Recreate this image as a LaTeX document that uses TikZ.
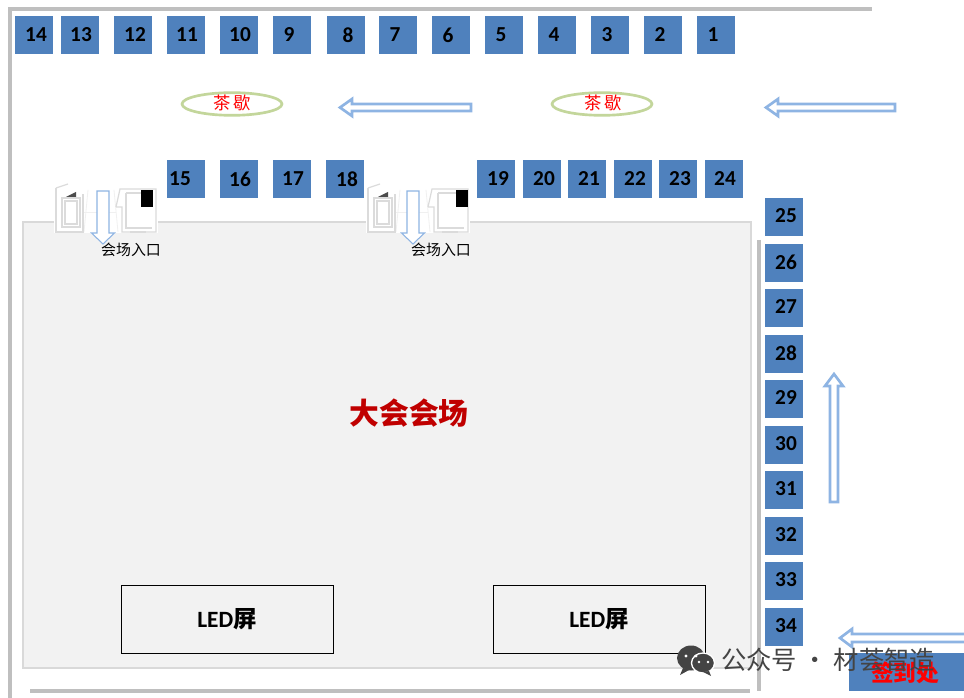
\documentclass[tikz,border=0pt]{standalone}
\usepackage{fontspec}
\usetikzlibrary{shapes.geometric}
\setmainfont{Carlito}
\newfontfamily\cjk{Noto Sans CJK SC}
\definecolor{boothblue}{HTML}{4F81BD}
\definecolor{wallgray}{HTML}{BFBFBF}
\definecolor{hallgray}{HTML}{F2F2F2}
\definecolor{halledge}{HTML}{D9D9D9}
\definecolor{arrowblue}{HTML}{8EB4E3}
\definecolor{ovalgreen}{HTML}{C3D69B}
\definecolor{titlered}{HTML}{C00000}
\definecolor{markgray}{HTML}{444444}
\tikzset{
 x=0.75pt,y=-0.75pt,
 booth/.style={fill=boothblue,draw=none,minimum width=28.5pt,minimum height=28.5pt,inner sep=0pt},
 boothnum/.style={font=\bfseries\fontsize{16}{18}\selectfont,text=black,inner sep=0pt},
 wall/.style={draw=wallgray,line width=3.4pt},
 oval/.style={ellipse,draw=ovalgreen,line width=2pt,fill=white,minimum width=75pt,minimum height=17pt,inner sep=0pt},
 ovaltext/.style={font=\cjk\fontsize{13}{14}\selectfont,text=red,inner sep=0pt},
 flow/.style={draw=arrowblue,line width=2pt,fill=white},
 thinflow/.style={draw=arrowblue,line width=0.8pt,fill=white},
 ledbox/.style={draw=black,line width=0.7pt,fill=hallgray,minimum width=159pt,minimum height=50.5pt,inner sep=0pt,font=\bfseries\fontsize{17.5}{20}\selectfont},
 doorline/.style={draw=black!14,line width=0.9pt},
 doorfaint/.style={draw=black!6,line width=0.6pt},
 gatetext/.style={font=\cjk\fontsize{11.2}{13}\selectfont,inner sep=0pt},
 marktext/.style={font=\cjk\fontsize{19}{21}\selectfont,text=markgray,inner sep=0pt},
}
% #1 left edge, #2 left edge of the black block, #3 centre of the arrow
\newcommand{\doorset}[3]{%
 \fill[white] (#1,185) rectangle (#1+104,233);
 \draw[doorfaint] (#1+29,212) -- (#1+62,212);
 \draw[doorfaint] (#1+34,190) -- (#1+30,232);
 \draw[doorfaint] (#1+60,190) -- (#1+64,232);
 \draw[doorline] (#1+2,188) -- (#1+2,232) -- (#1+29,232) -- (#1+29,194);
 \draw[doorline] (#1+2,188) -- (#1+14,184);
 \draw[doorline] (#1+8,198) rectangle (#1+26,227);
 \draw[doorline] (#1+11,201) rectangle (#1+23,224);
 \fill[black!70] (#1+12,197) -- (#1+22,192) -- (#1+22,197) -- cycle;
 \draw[doorline] (#1+62,207) -- (#1+66,189) -- (#1+102,189) -- (#1+102,232) -- (#1+68,232) -- (#1+68,207) -- (#1+62,207);
 \draw[doorline] (#1+72,193) -- (#1+72,228) -- (#1+98,228);
 \draw[doorline] (#1+72,193) -- (#2,193);
 \fill[black] (#2,190) rectangle (#2+12,207);
 \draw[doorline] (#1+76,232) -- (#1+92,232);
 \draw[thinflow] (#3-6,191) -- (#3+6,191) -- (#3+6,233) -- (#3+11.5,233) -- (#3,244) -- (#3-11.5,233) -- (#3-6,233) -- cycle;
}
\begin{document}
\begin{tikzpicture}
\useasboundingbox (0,0) rectangle (964,698);
\fill[white] (0,0) rectangle (964,698);
% walls and hall
\draw[wall] (8,9) -- (872,9);
\draw[wall] (10,9) -- (10,698);
\draw[wall] (30,691) -- (750,691);
\draw[wall] (759,240) -- (759,691);
\draw[draw=halledge,line width=2.2pt,fill=hallgray] (23,222) rectangle (751,668);
% top row
\foreach \n/\bx/\tx in {14/34/36,13/80/81,12/133/135,11/186/187,10/239/240,9/292/289,8/346/348,7/398/395,6/451/448,5/504/501,4/557/554,3/610/607,2/663/660,1/716/713}{
 \node[booth] (b\n) at (\bx,35) {};
 \node[boothnum] (t\n) at (\tx,35) {\n};
}
% second row
\foreach \n/\bx/\tx in {15/186/180,16/239/240,17/292/293,18/345/347,19/496/498,20/542/544,21/587/589,22/633/635,23/678/680,24/724/725}{
 \node[booth] (b\n) at (\bx,179) {};
 \node[boothnum] (t\n) at (\tx,179) {\n};
}
% right column
\foreach \n/\by in {25/217,26/263,27/308,28/354,29/399,30/445,31/490,32/536,33/581,34/627}{
 \node[booth] (b\n) at (784,\by) {};
 \node[boothnum] (t\n) at (786,\by-1) {\n};
}
% tea breaks
\node[oval] (tea1) at (232,104) {};
\node[ovaltext] (tea1t) at (232,103) {茶\,歇};
\node[oval] (tea2) at (602,104) {};
\node[ovaltext] (tea2t) at (603,103) {茶\,歇};
% flow arrows
\draw[flow] (471,104) -- (352,104) -- (352,99) -- (340,107.5) -- (352,116) -- (352,111) -- (471,111) -- cycle;
\draw[flow] (895,104) -- (778,104) -- (778,99) -- (766,107.5) -- (778,116) -- (778,111) -- (895,111) -- cycle;
\draw[flow] (830,502) -- (830,386) -- (825,386) -- (834,374) -- (843,386) -- (838,386) -- (838,502) -- cycle;
\draw[flow] (966,634) -- (852,634) -- (852,629) -- (840,638) -- (852,647) -- (852,642) -- (966,642);
% doors
\doorset{54}{141}{103}
\doorset{366}{456}{413}
\node[gatetext] (g1) at (131,250) {会场入口};
\node[gatetext] (g2) at (441,250) {会场入口};
% main title
\node[font=\cjk\bfseries\fontsize{22.3}{25}\selectfont,text=titlered,inner sep=0pt] (hall) at (409,413) {大会会场};
% LED screens
\node[ledbox] (led1) at (227,619.5) {LED{\cjk 屏}};
\node[ledbox] (led2) at (599,619.5) {LED{\cjk 屏}};
% sign-in
\fill[boothblue] (849,653) rectangle (964,691);
\node[font=\cjk\bfseries\fontsize{17}{19}\selectfont,text=red,inner sep=0pt] (sign) at (905,673) {签到处};
% watermark
\fill[markgray] (691,658) ellipse (14 and 12.5);
\fill[markgray] (683,668) -- (680,675) -- (689,670) -- cycle;
\draw[white,line width=1pt,fill=markgray] (703,663) ellipse (11.5 and 10);
\fill[markgray] (709,671) -- (711,676) -- (703,672) -- cycle;
\fill[white] (686,656) circle (1.7) (696,656) circle (1.7) (699,662) circle (1.3) (708,662) circle (1.3);
\node[marktext,anchor=west] (mark) at (721,660) {公众号 · 材荟智造};
\end{tikzpicture}
\end{document}
